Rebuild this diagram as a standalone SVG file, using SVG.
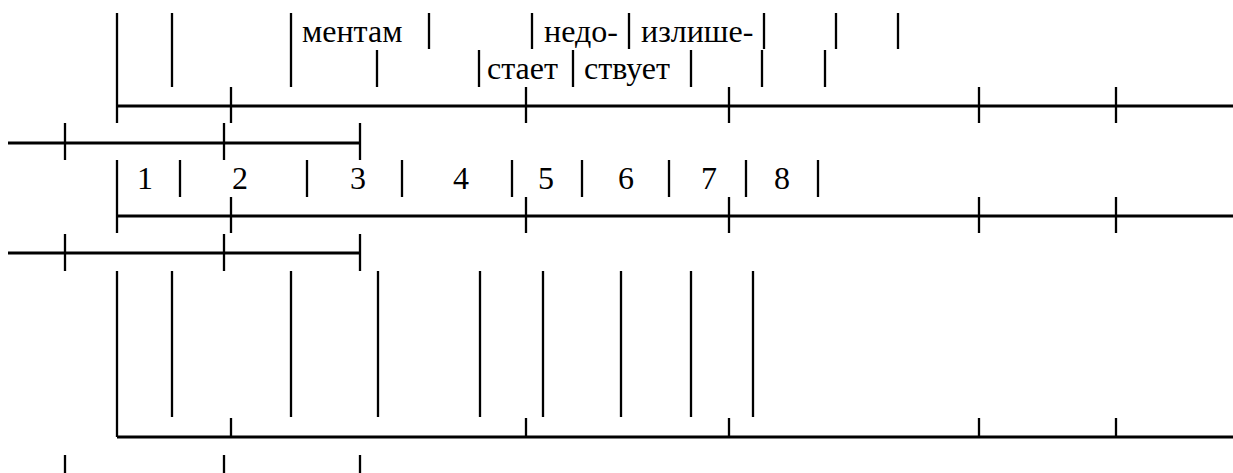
<svg xmlns="http://www.w3.org/2000/svg" width="1233" height="473" viewBox="0 0 1233 473">
<style>
.h{stroke:#000;stroke-width:2.8;fill:none}
.v{stroke:#000;stroke-width:2.3;fill:none}
.t{font-family:"Liberation Serif","DejaVu Serif","Times New Roman",serif;font-size:32px;fill:#000}
.d{font-family:"Liberation Serif","DejaVu Serif","Times New Roman",serif;font-size:32px;fill:#000;text-anchor:middle}
</style>
<rect width="1233" height="473" fill="#fff"/>
<g id="connectors">
  <g id="top-scale">
    <path class="h" d="M117 106H1233M8 143H360"/>
    <path class="v" d="M117 13V123M231 87V123M526 87V123M729 87V123M979 87V123M1116 87V123M65 123V160M224 123V160M360 123V160"/>
  </g>
  <g id="middle-scale">
    <path class="h" d="M117 216H1233M8 253H360"/>
    <path class="v" d="M117 160V233M231 197V233M526 197V233M729 197V233M979 197V233M1116 197V233M65 234V271M224 234V271M360 234V271"/>
  </g>
  <g id="bottom-scale">
    <path class="h" d="M117 437H1233"/>
    <path class="v" d="M117 271V437M231 418V437M526 418V437M729 418V437M979 418V437M1116 418V437M65 455V473M224 455V473M360 455V473"/>
  </g>
</g>
<g id="top-labels">
  <path class="v" d="M172 13V87M291 13V87M429 13V49M532 13V49M629 13V49M764 13V49M836 13V49M898 13V49"/>
  <path class="v" d="M377 50V87M479 50V87M573 50V87M691 50V87M762 50V87M825 50V87"/>
  <text class="t" x="302" y="42">ментам</text>
  <text class="t" x="544" y="42">недо-</text>
  <text class="t" x="641" y="42">излише-</text>
  <text class="t" x="487" y="79">стает</text>
  <text class="t" x="584" y="79">ствует</text>
</g>
<g id="number-labels">
  <path class="v" d="M180 160V197M307 160V197M402 160V197M512 160V197M582 160V197M669 160V197M746 160V197M818 160V197"/>
  <text class="d" x="145" y="189">1</text>
  <text class="d" x="240" y="189">2</text>
  <text class="d" x="358" y="189">3</text>
  <text class="d" x="461" y="189">4</text>
  <text class="d" x="546" y="189">5</text>
  <text class="d" x="626" y="189">6</text>
  <text class="d" x="709" y="189">7</text>
  <text class="d" x="782" y="189">8</text>
</g>
<g id="bottom-bars">
  <path class="v" d="M172 271V417M291 271V417M378 271V417M480 271V417M543 271V417M621 271V417M691 271V417M753 271V417"/>
</g>
</svg>
